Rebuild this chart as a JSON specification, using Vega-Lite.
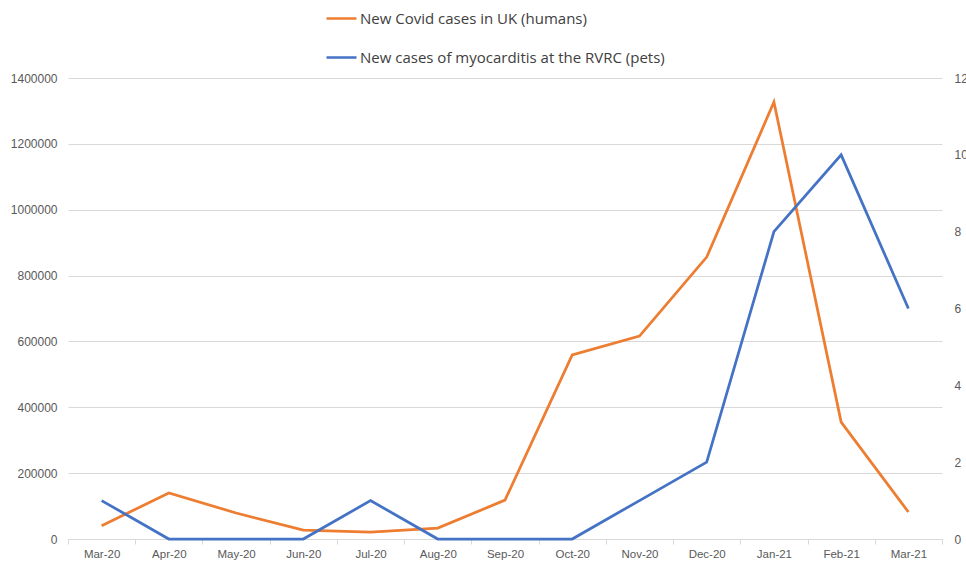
{
  "$schema": "https://vega.github.io/schema/vega-lite/v6.json",
  "autosize": "none",
  "width": 874,
  "height": 461,
  "padding": {"left": 68, "top": 78, "right": 24, "bottom": 23},
  "background": "white",
  "config": {"view": {"stroke": null}, "font": "Liberation Sans"},
  "data": {"values": [
    {"month": "Mar-20", "series": "New Covid cases in UK (humans)", "value": 40000},
    {"month": "Apr-20", "series": "New Covid cases in UK (humans)", "value": 140000},
    {"month": "May-20", "series": "New Covid cases in UK (humans)", "value": 79000},
    {"month": "Jun-20", "series": "New Covid cases in UK (humans)", "value": 27000},
    {"month": "Jul-20", "series": "New Covid cases in UK (humans)", "value": 21000},
    {"month": "Aug-20", "series": "New Covid cases in UK (humans)", "value": 33000},
    {"month": "Sep-20", "series": "New Covid cases in UK (humans)", "value": 118000},
    {"month": "Oct-20", "series": "New Covid cases in UK (humans)", "value": 559000},
    {"month": "Nov-20", "series": "New Covid cases in UK (humans)", "value": 616000},
    {"month": "Dec-20", "series": "New Covid cases in UK (humans)", "value": 856000},
    {"month": "Jan-21", "series": "New Covid cases in UK (humans)", "value": 1327000},
    {"month": "Feb-21", "series": "New Covid cases in UK (humans)", "value": 355000},
    {"month": "Mar-21", "series": "New Covid cases in UK (humans)", "value": 82000},
    {"month": "Mar-20", "series": "New cases of myocarditis at the RVRC (pets)", "value": 1},
    {"month": "Apr-20", "series": "New cases of myocarditis at the RVRC (pets)", "value": 0},
    {"month": "May-20", "series": "New cases of myocarditis at the RVRC (pets)", "value": 0},
    {"month": "Jun-20", "series": "New cases of myocarditis at the RVRC (pets)", "value": 0},
    {"month": "Jul-20", "series": "New cases of myocarditis at the RVRC (pets)", "value": 1},
    {"month": "Aug-20", "series": "New cases of myocarditis at the RVRC (pets)", "value": 0},
    {"month": "Sep-20", "series": "New cases of myocarditis at the RVRC (pets)", "value": 0},
    {"month": "Oct-20", "series": "New cases of myocarditis at the RVRC (pets)", "value": 0},
    {"month": "Nov-20", "series": "New cases of myocarditis at the RVRC (pets)", "value": 1},
    {"month": "Dec-20", "series": "New cases of myocarditis at the RVRC (pets)", "value": 2},
    {"month": "Jan-21", "series": "New cases of myocarditis at the RVRC (pets)", "value": 8},
    {"month": "Feb-21", "series": "New cases of myocarditis at the RVRC (pets)", "value": 10},
    {"month": "Mar-21", "series": "New cases of myocarditis at the RVRC (pets)", "value": 6}
  ]},
  "encoding": {
    "x": {
      "field": "month", "type": "ordinal", "sort": null, "bandPosition": 0.5,
      "scale": {"type": "band", "paddingInner": 0, "paddingOuter": 0},
      "axis": {
        "title": null, "labelAngle": 0, "tickBand": "extent", "grid": false,
        "domainColor": "#d9d9d9", "tickColor": "#d9d9d9", "tickSize": 5,
        "labelColor": "#595959", "labelFontSize": 11.5, "labelPadding": 4
      }
    },
    "color": {
      "field": "series", "type": "nominal",
      "scale": {"domain": ["New Covid cases in UK (humans)", "New cases of myocarditis at the RVRC (pets)"], "range": ["#ED7D31", "#4472C4"]},
      "legend": {
        "title": null, "orient": "none", "legendX": 257, "legendY": -76,
        "direction": "vertical", "symbolType": "stroke", "symbolSize": 900,
        "symbolStrokeWidth": 2.5, "labelFontSize": 15, "labelFont": "Open Sans", "labelColor": "#404040",
        "rowPadding": 14, "labelOffset": 2, "labelLimit": 400
      }
    }
  },
  "layer": [
    {
      "transform": [{"filter": "datum.series === 'New Covid cases in UK (humans)'"}],
      "mark": {"type": "line", "strokeWidth": 2.75},
      "encoding": {
        "y": {
          "field": "value", "type": "quantitative",
          "scale": {"domain": [0, 1400000]},
          "axis": {
            "title": null, "values": [0, 200000, 400000, 600000, 800000, 1000000, 1200000, 1400000],
            "format": "d", "domain": false, "ticks": false, "gridColor": "#d9d9d9",
            "labelColor": "#595959", "labelFontSize": 12, "labelPadding": 11
          }
        }
      }
    },
    {
      "transform": [{"filter": "datum.series === 'New cases of myocarditis at the RVRC (pets)'"}],
      "mark": {"type": "line", "strokeWidth": 2.75},
      "encoding": {
        "y": {
          "field": "value", "type": "quantitative",
          "scale": {"domain": [0, 12]},
          "axis": {
            "title": null, "orient": "right", "values": [0, 2, 4, 6, 8, 10, 12],
            "domain": false, "ticks": false, "grid": false,
            "labelColor": "#595959", "labelFontSize": 12, "labelPadding": 12
          }
        }
      }
    }
  ],
  "resolve": {"scale": {"y": "independent"}}
}
